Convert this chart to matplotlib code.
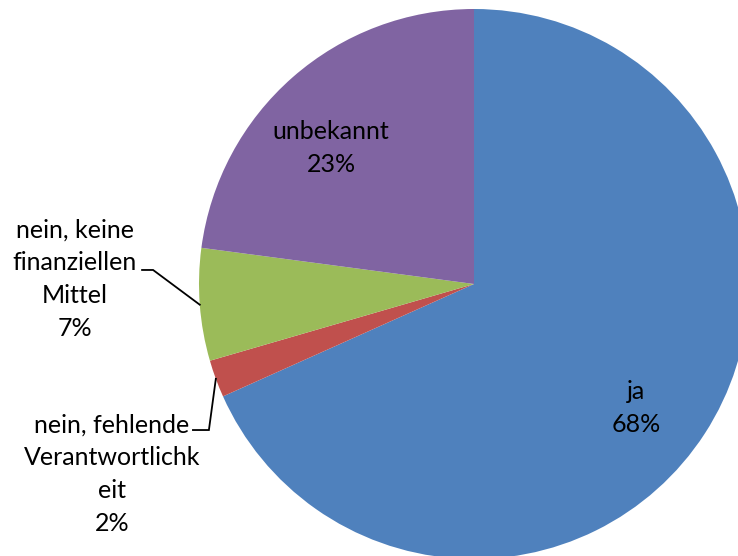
import numpy as np
import matplotlib
matplotlib.use("Agg")
import matplotlib.pyplot as plt

categories = ["ja", "nein, fehlende\nVerantwortlichk\neit", "nein, keine\nfinanziellen\nMittel", "unbekannt"]
values = [68.3, 2.2, 6.6, 22.9]
colors = ["#4F81BD", "#C0504D", "#9BBB59", "#8064A2"]

plt.rcParams['font.family'] = ['Lato', 'DejaVu Sans']

fig = plt.figure(figsize=(7.38, 5.56), dpi=100)
ax = fig.add_axes([0, 0, 1, 1])
wedges, _ = ax.pie(values, colors=colors, startangle=90, counterclock=False,
                   radius=1.0, center=(0, 0), wedgeprops=dict(linewidth=0))
ax.set_xlim(-474 / 275, (738 - 474) / 275)
ax.set_ylim(-(556 - 284) / 275, 284 / 275)
ax.set_aspect('equal')
ax.axis('off')

total = sum(values)
pct = [f"{round(v / total * 100):.0f}%" for v in values]

# label block positions (data units)
label_pos = [(0.589, -0.451), (-1.316, -0.691), (-1.451, 0.018), (-0.52, 0.495)]
# leader elbows: (elbow, end) for outside labels
leaders = {1: ((-0.964, -0.531), (-1.022, -0.531)),
           2: ((-1.167, 0.051), (-1.207, 0.051))}

for i, (w, lab) in enumerate(zip(wedges, categories)):
    x, y = label_pos[i]
    ax.text(x, y, f"{lab}\n{pct[i]}", ha='center', va='center', fontsize=18,
            color='black', linespacing=1.52)
    if i in leaders:
        mid = np.deg2rad((w.theta1 + w.theta2) / 2)
        ax0, ay0 = np.cos(mid), np.sin(mid)
        (ex, ey), (fx, fy) = leaders[i]
        ax.plot([ax0, ex, fx], [ay0, ey, fy], color='black', lw=1.3,
                solid_joinstyle='miter')

fig.savefig("out.png", dpi=100)
